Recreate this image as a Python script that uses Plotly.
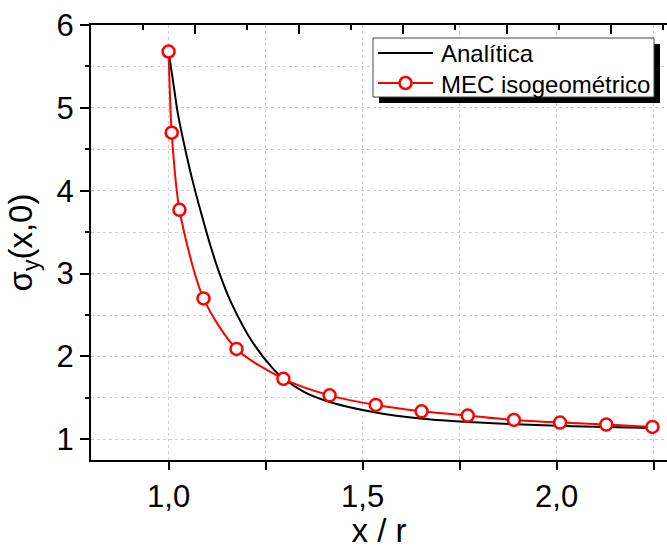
import plotly.graph_objects as go

# Analytical curve
x_analitica = [1.0, 1.0103, 1.0232, 1.0405, 1.0601, 1.0832, 1.1077, 1.1314, 1.1598, 1.2131,
               1.2706, 1.2964, 1.35, 1.415, 1.527, 1.655, 1.784, 1.913, 2.042, 2.244]
y_analitica = [5.674, 5.36, 4.949, 4.551, 4.152, 3.742, 3.338, 2.999, 2.664, 2.195,
               1.844, 1.733, 1.57, 1.451, 1.33, 1.247, 1.205, 1.178, 1.157, 1.137]

# Isogeometric BEM points
x_mec = [1.0, 1.008, 1.028, 1.09, 1.175, 1.296, 1.415, 1.534, 1.652, 1.771, 1.89, 2.009, 2.128, 2.247]
y_mec = [5.68, 4.70, 3.77, 2.70, 2.09, 1.73, 1.53, 1.414, 1.338, 1.286, 1.233, 1.202, 1.178, 1.149]

x_ticks = [1.0, 1.5, 2.0]
x_ticklabels = ["1,0", "1,5", "2,0"]
y_ticks = [1, 2, 3, 4, 5, 6]
legend_names = ["Analítica", "MEC isogeométrico"]

W, H = 667, 549
L, R, T, B = 91, 0, 25, 89
pw = W - L - R
ph = H - T - B


def px(xp):
    return (xp - L) / pw


def py(yp):
    return 1 - (yp - T) / ph


FONT = "Liberation Sans, Arial, sans-serif"
grid = dict(gridcolor="#cfcfcf", gridwidth=1, griddash="3px,3px")

fig = go.Figure()
fig.add_trace(go.Scatter(x=x_analitica, y=y_analitica, mode="lines", name=legend_names[0],
                         showlegend=False,
                         line=dict(color="black", width=2, shape="spline", smoothing=0.8)))
fig.add_trace(go.Scatter(x=x_mec, y=y_mec, mode="lines+markers", name=legend_names[1],
                         showlegend=False,
                         line=dict(color="red", width=2, shape="spline", smoothing=0.8),
                         marker=dict(symbol="circle", size=12, color="white",
                                     line=dict(color="red", width=2.5))))
# invisible trace for the top axis ticks
fig.add_trace(go.Scatter(x=[0], y=[None], xaxis="x2", yaxis="y", showlegend=False,
                         hoverinfo="skip"))

# custom legend with drop shadow
shapes = [
    dict(type="rect", xref="paper", yref="paper", layer="above",
         x0=px(379), x1=px(660), y0=py(103), y1=py(44),
         fillcolor="black", line=dict(width=0)),
    dict(type="rect", xref="paper", yref="paper", layer="above",
         x0=px(373), x1=px(654), y0=py(97), y1=py(38),
         fillcolor="white", line=dict(color="#444444", width=1)),
    dict(type="line", xref="paper", yref="paper", layer="above",
         x0=px(378), x1=px(433), y0=py(53), y1=py(53),
         line=dict(color="black", width=2)),
    dict(type="line", xref="paper", yref="paper", layer="above",
         x0=px(378), x1=px(433), y0=py(83), y1=py(83),
         line=dict(color="red", width=2)),
    dict(type="circle", xref="paper", yref="paper", layer="above",
         xsizemode="pixel", ysizemode="pixel", xanchor=px(405.5), yanchor=py(83),
         x0=-6, x1=6, y0=-6, y1=6,
         fillcolor="white", line=dict(color="red", width=2.5)),
]
annotations = [
    dict(text=legend_names[0], xref="paper", yref="paper", x=px(439), y=py(54),
         xanchor="left", yanchor="middle", showarrow=False, font=dict(size=24)),
    dict(text=legend_names[1], xref="paper", yref="paper", x=px(439), y=py(84),
         xanchor="left", yanchor="middle", showarrow=False, font=dict(size=24)),
]

fig.update_layout(
    width=W, height=H,
    margin=dict(l=L, r=R, t=T, b=B, pad=0),
    paper_bgcolor="white", plot_bgcolor="white",
    font=dict(family=FONT, color="black"),
    showlegend=False,
    xaxis=dict(range=[0.8, 0.8 + pw / 388.0], tickvals=x_ticks, ticktext=x_ticklabels,
               ticks="outside", ticklen=8, tickwidth=1.5, tickcolor="black",
               tickfont=dict(size=31), showline=True, linecolor="black", linewidth=2,
               mirror=True, zeroline=False, showgrid=True, **grid,
               minor=dict(dtick=0.25, tick0=0, ticks="outside", ticklen=8, tickwidth=1.5,
                          tickcolor="black", showgrid=True, **grid),
               title=dict(text="x / r", font=dict(size=33), standoff=6)),
    xaxis2=dict(overlaying="x", side="top", anchor="y", range=[0, pw / 104.0],
                dtick=1, tick0=0, ticks="inside", ticklen=9, tickwidth=1.5, tickcolor="black",
                showticklabels=False, showgrid=False, showline=False, zeroline=False,
                minor=dict(dtick=0.5, tick0=0, ticks="inside", ticklen=5, tickwidth=1.5,
                           tickcolor="black", showgrid=False)),
    yaxis=dict(range=[0.75, 6], tickvals=y_ticks, ticks="outside", ticklen=9, tickwidth=1.5,
               tickcolor="black", tickfont=dict(size=31), showline=True, linecolor="black",
               linewidth=2, zeroline=False, showgrid=True, **grid,
               minor=dict(dtick=0.5, tick0=0, ticks="outside", ticklen=4, tickwidth=1.5,
                          tickcolor="black", showgrid=True, **grid),
               title=dict(text="σ<sub>y</sub>(x,0)", font=dict(size=33), standoff=14)),
    shapes=shapes,
    annotations=annotations,
)

fig.write_html("out.html")
